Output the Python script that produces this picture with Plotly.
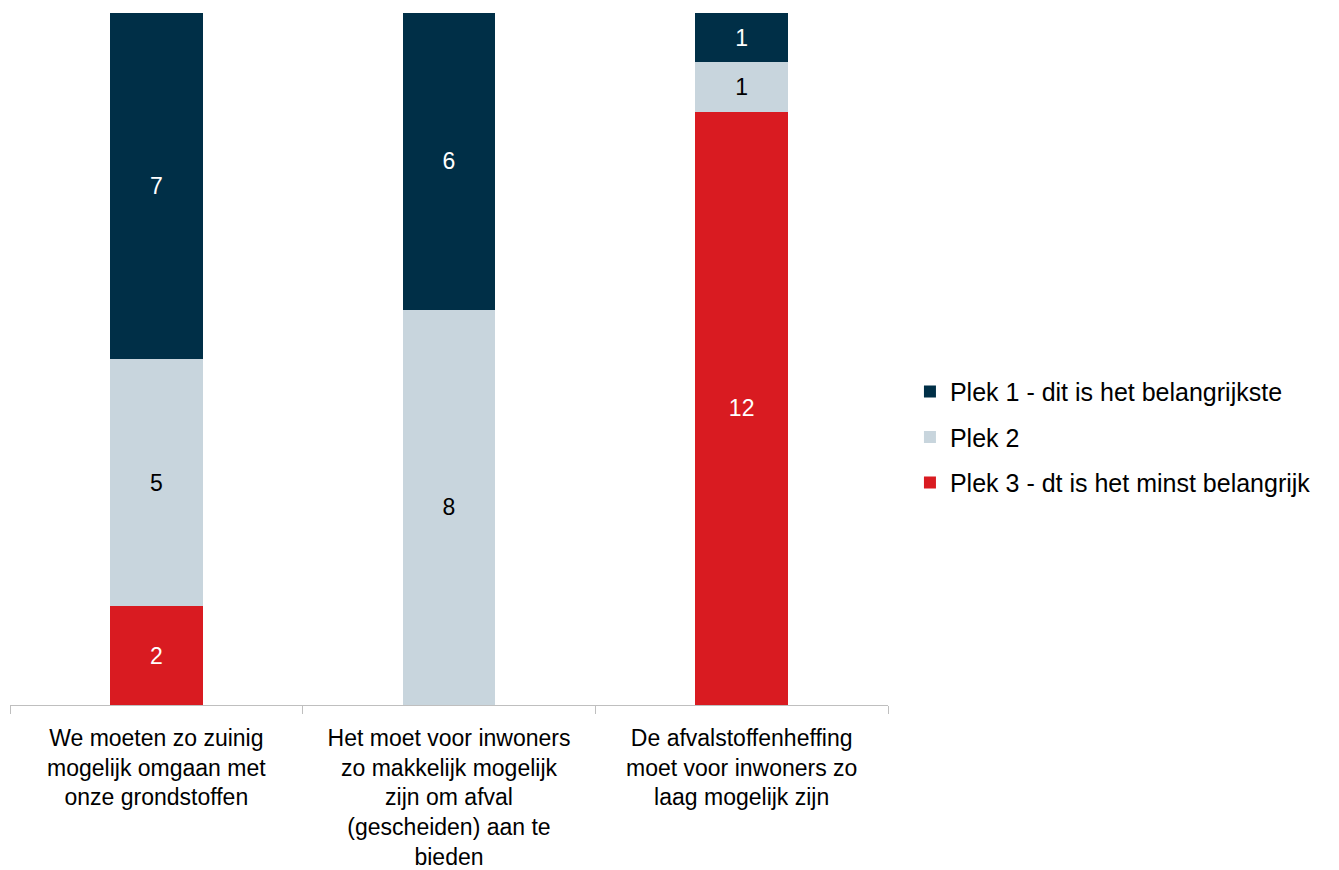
import plotly.graph_objects as go

categories = [
    "We moeten zo zuinig<br>mogelijk omgaan met<br>onze grondstoffen",
    "Het moet voor inwoners<br>zo makkelijk mogelijk<br>zijn om afval<br>(gescheiden) aan te<br>bieden",
    "De afvalstoffenheffing<br>moet voor inwoners zo<br>laag mogelijk zijn",
]
plek1 = [7, 6, 1]
plek2 = [5, 8, 1]
plek3 = [2, 0, 12]

series_names = [
    "Plek 1 - dit is het belangrijkste",
    "Plek 2",
    "Plek 3 - dt is het minst belangrijk",
]
colors = ["#002f47", "#c8d5dd", "#d91b21"]
text_colors = ["white", "black", "white"]

FONT = "Liberation Sans, Arial, sans-serif"

fig = go.Figure()
# bottom of the stack first
for i, (vals, name, col, tcol) in reversed(list(enumerate(zip([plek1, plek2, plek3], series_names, colors, text_colors)))):
    fig.add_trace(go.Bar(
        x=categories, y=vals, name=name, legendgroup=f"g{i}", legendrank=i + 1,
        marker=dict(color=col, line=dict(width=0)),
        text=[str(v) if v else "" for v in vals],
        textposition="inside", insidetextanchor="middle", textangle=0,
        textfont=dict(color=tcol, size=23, family=FONT),
        hoverinfo="skip",
    ))

fig.update_layout(
    barmode="stack",
    bargap=0.683,
    width=1339, height=870,
    margin=dict(l=2, r=459, t=5, b=173),
    paper_bgcolor="white", plot_bgcolor="white",
    font=dict(family=FONT, size=24, color="black"),
    legend=dict(
        x=1.025, xanchor="left", y=0.387, yanchor="middle",
        traceorder="grouped", tracegroupgap=10,
        font=dict(size=25), itemwidth=30,
    ),
    uniformtext=dict(minsize=23, mode="show"),
)
fig.update_xaxes(
    showline=True, linecolor="#bfbfbf", linewidth=1,
    ticks="outside", tickson="boundaries", ticklen=8, tickcolor="#bfbfbf",
    showgrid=False, tickfont=dict(size=23), ticklabelstandoff=12,
)
fig.update_yaxes(range=[0, 14], visible=False, showgrid=False)

fig.write_html("out.html")
